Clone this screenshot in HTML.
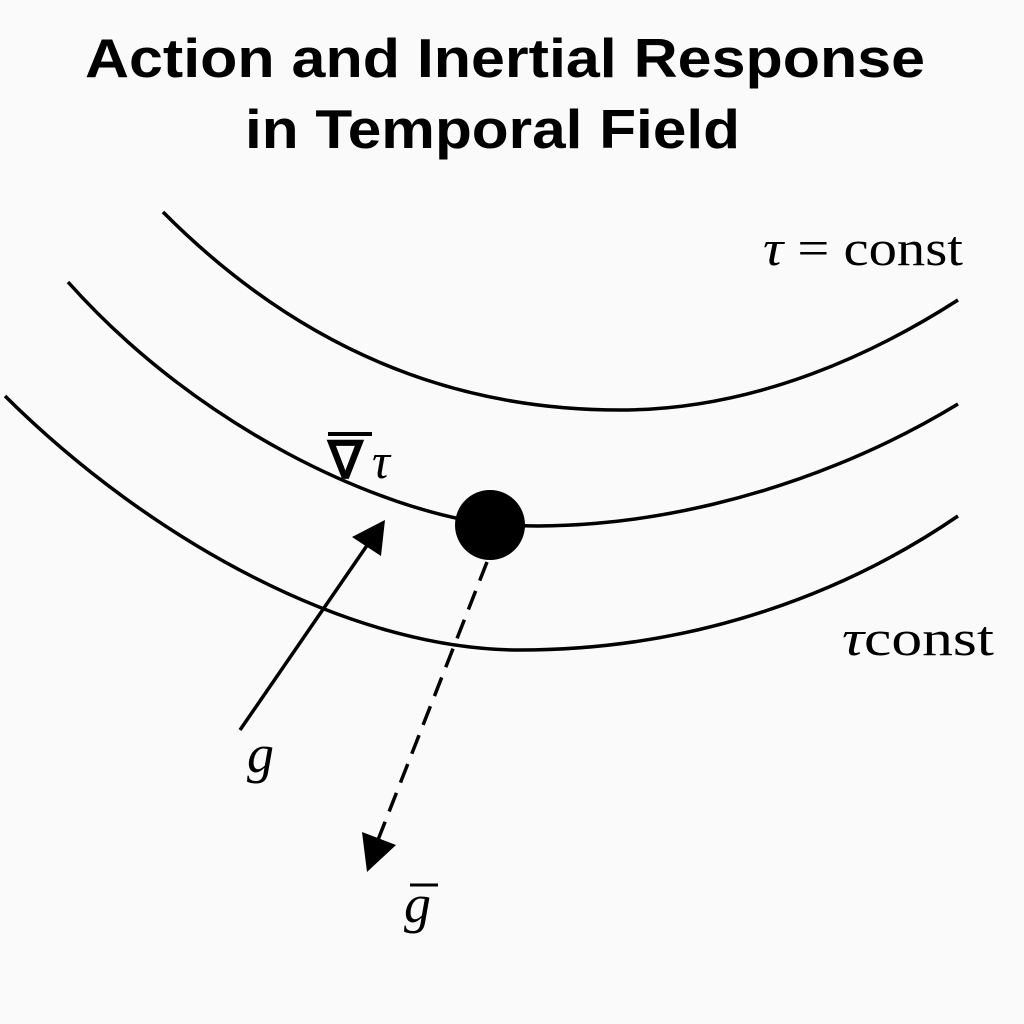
<!DOCTYPE html>
<html><head><style>
html,body{margin:0;padding:0;background:#fafafa;}
</style></head><body>
<svg width="1024" height="1024" xmlns="http://www.w3.org/2000/svg" style="display:block">
<rect width="1024" height="1024" fill="#fafafa"/>
<text x="85" y="77" textLength="840" lengthAdjust="spacingAndGlyphs" font-family="Liberation Sans, sans-serif" font-weight="bold" font-size="55">Action and Inertial Response</text>
<text x="245" y="148" textLength="495" lengthAdjust="spacingAndGlyphs" font-family="Liberation Sans, sans-serif" font-weight="bold" font-size="55">in Temporal Field</text>
<g fill="none" stroke="#000" stroke-width="3.5">
<path d="M163,212 C330,380 500,410 620,410 C760,410 880,350 958,300"/>
<path d="M68,282 C200,430 380,510 490,524 C620,535 800,500 958,404"/>
<path d="M5,396 C150,540 350,650 520,650 C700,650 850,590 958,516"/>
<line x1="240" y1="730" x2="368" y2="544"/>
<line x1="487" y1="562" x2="376" y2="845" stroke-dasharray="20,11"/>
</g>
<polygon points="385,520 352,537 381,556" fill="#000"/>
<polygon points="367,872 362,832 396,845" fill="#000"/>
<circle cx="490" cy="525" r="35" fill="#000"/>
<g font-family="Liberation Serif, serif" font-size="50">
<text x="763" y="265" textLength="200" lengthAdjust="spacingAndGlyphs"><tspan font-style="italic">τ</tspan> = const</text>
<text x="842" y="655" textLength="152" lengthAdjust="spacingAndGlyphs"><tspan font-style="italic">τ</tspan>const</text>
<text x="328" y="478" font-size="52" font-weight="bold">∇</text>
<text x="372" y="478" font-style="italic">τ</text>
<text x="247" y="772" font-style="italic" font-size="54">g</text>
<text x="404" y="922" font-style="italic" font-size="54">g</text>
</g>
<line x1="328" y1="434" x2="372" y2="434" stroke="#000" stroke-width="4"/>
<line x1="410" y1="885" x2="438" y2="885" stroke="#000" stroke-width="3"/>
</svg>
</body></html>
